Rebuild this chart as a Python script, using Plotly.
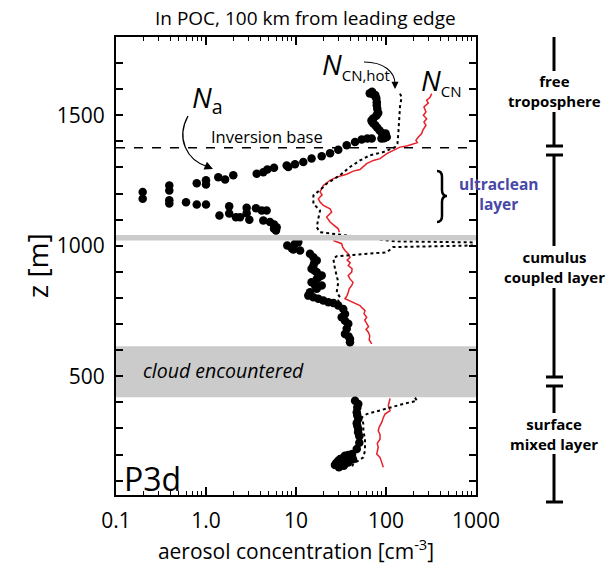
import plotly.graph_objects as go

# ---------------- data ----------------
# N_a (aerosol number, black dots): concentration [cm-3], altitude [m]
na_conc = [66, 70, 72, 76, 78, 79, 79, 80, 82, 80, 78, 72, 69, 70, 72, 76, 80, 85, 90, 96, 100, 102, 99, 95, 89,
           69.4, 62, 53.7, 45.3, 36.6, 29.5, 23.9, 19.3, 14.9, 12.05, 9.75, 8.21, 7.88, 5.7, 4.8, 4.33, 3.66,
           2.01, 1.63, 1.37, 1.0, 1.0, 0.789, 0.391, 0.391, 0.198, 0.198, 0.391, 0.391, 0.6, 0.789, 1.0,
           1.41, 1.81, 1.81, 2.15, 2.39, 2.83, 2.83, 3.03, 3.59, 4.16, 4.72, 4.33, 5.14, 5.7, 5.7, 6.1, 6.0,
           8.0, 8.96, 9.75, 10.6, 11.1, 9.33,
           14.3, 15.6, 17.0, 16.0, 15.6, 14.9, 16.0, 17.0, 19.3, 18.0, 17.0, 14.9, 16.3, 19.3, 17.0, 14.3,
           13.7, 15.6, 17.7, 20.1, 22.9, 26, 29.5, 33.5, 35, 32.2, 35, 38.1, 36.6, 35, 38.5, 39.8, 39.8,
           45.3, 49.2, 48, 47.3, 48, 49.2, 47.3, 48, 49.2, 49, 50.5, 50.5, 47.3, 42, 38.1, 35, 33.5, 31,
           29.5, 28, 27.1, 30, 34, 38, 43]
na_alt = [1584, 1590, 1580, 1578, 1565, 1550, 1538, 1525, 1510, 1504, 1498, 1488, 1480, 1475, 1470, 1462, 1452, 1442, 1432, 1424, 1417, 1417, 1430, 1412, 1411,
          1411, 1411, 1407, 1398, 1385, 1368, 1355, 1343, 1334, 1321, 1312, 1302, 1308, 1299, 1292, 1282, 1276,
          1270, 1254, 1263, 1251, 1235, 1240, 1231, 1212, 1206, 1180, 1174, 1162, 1167, 1158, 1158,
          1116, 1151, 1124, 1109, 1109, 1146, 1125, 1100, 1144, 1135, 1135, 1097, 1091, 1082, 1065, 1071, 1059,
          1001, 991, 1008, 1014, 982, 986,
          969, 956, 944, 935, 924, 912, 905, 899, 886, 880, 873, 860, 848, 848, 835, 822,
          809, 803, 797, 790, 784, 781, 771, 758, 739, 726, 713, 701, 682, 662, 652, 643, 630,
          406, 394, 380, 362, 350, 336, 320, 310, 298, 285, 270, 245, 221, 202, 198, 195, 188, 183,
          176, 168, 160, 151, 157, 170, 182, 190]

# N_CN (red line)
ncn_conc = [322, 308, 283, 295, 264, 278, 260, 283, 264, 278, 256, 249, 229, 215, 223, 201, 170, 143, 121, 102,
            85.8, 72.3, 61, 51.4, 43.3, 36.6, 28.3, 23.9, 20.1, 18.5, 19.5, 17.7, 18.5, 20.1, 23.9, 24.9, 21.9,
            23.9, 26.5, 29.5, 30.3,
            None,
            26, 30, 32.2, 33, 35, 38, 39.8, 37, 40, 38.1, 42, 41.6, 38, 39.8, 43, 41.6, 39, 38.1, 37, 35,
            41.6, 51.4, 55, 58.4, 57, 61, 58, 61, 64, 60, 63.6, 66, 65, 69.4,
            None,
            111, 106, 111, 97.5, 93, 89.6, 84, 82, 86, 85.8, 80, 82, 78.8, 85.8, 89.6, 93.3]
ncn_alt = [1583, 1568, 1558, 1547, 1532, 1513, 1500, 1487, 1474, 1462, 1442, 1430, 1417, 1404, 1395, 1389, 1382, 1378, 1366, 1353,
           1334, 1327, 1315, 1292, 1286, 1274, 1263, 1251, 1231, 1206, 1195, 1180, 1168, 1155, 1142, 1129, 1110,
           1091, 1078, 1065, 1052,
           None,
           1020, 1012, 1008, 995, 982, 970, 956, 945, 935, 924, 912, 899, 886, 873, 860, 848, 835, 822, 810, 797,
           784, 771, 760, 752, 740, 726, 715, 701, 690, 680, 669, 655, 640, 624,
           None,
           415, 387, 368, 355, 340, 323, 305, 291, 275, 259, 243, 227, 202, 189, 170, 151]

# N_CN,hot (black dotted line)
hot_conc = [143, 149, 143, 141, 137, 134, 126, 93.3, 66.4, 51.4, 39.8, 30.8, 21.9, 20, 15.6, 15.6, 18.5, 17.7, 17.0, 18.5,
            126, 926, 926, 120, 102, 43.3, 28.3, 26, 27.1, 29.5, 28.3, 30.8, 29.5, 33, 38.1, 41.6,
            None,
            210, 221, 156, 116, 85.8, 61, 53.7, 56, 56, 58.4, 58.4, 56, 43.3, 41.6]
hot_alt = [1583, 1570, 1532, 1481, 1430, 1391, 1378, 1359, 1347, 1327, 1302, 1270, 1238, 1224, 1193, 1161, 1135, 1104, 1071, 1052,
           1017, 1013, 1001, 995, 975, 965, 960, 950, 912, 860, 822, 803, 790, 752, 669, 630,
           None,
           418, 406, 394, 381, 368, 355, 342, 317, 291, 259, 215, 189, 164, 151]

x_tickvals = [0.1, 1, 10, 100, 1000]
x_ticktext = ["0.1", "1.0", "10", "100", "1000"]
x_minor = [m * d for d in [0.1, 1, 10, 100] for m in range(2, 10)]
y_tickvals = [500, 1000, 1500]
y_minor = [v for v in range(100, 1801, 100) if v % 500 != 0]

inversion_alt = 1376
thin_band = (1020, 1041)
cloud_band = (420, 615)

FONT = "Open Sans"

# ---------------- layout geometry ----------------
W, H = 613, 569
L, R, T, B = 116, 476, 37, 495


def px(x):
    return (x - L) / (R - L)


def py(y):
    return (B - y) / (B - T)


fig = go.Figure()
fig.add_trace(go.Scatter(x=ncn_conc, y=ncn_alt, mode="lines", line=dict(color="#e8202a", width=1.5),
                         connectgaps=False, showlegend=False))
fig.add_trace(go.Scatter(x=hot_conc, y=hot_alt, mode="lines", line=dict(color="black", width=2, dash="dot"),
                         connectgaps=False, showlegend=False))
fig.add_trace(go.Scatter(x=na_conc, y=na_alt, mode="markers", marker=dict(color="black", size=8.5),
                         showlegend=False))

shapes = []
# gray bands
shapes.append(dict(type="rect", xref="paper", yref="y", x0=0, x1=1, y0=thin_band[0], y1=thin_band[1],
                   fillcolor="#cbcbcb", line=dict(width=0), layer="above"))
shapes.append(dict(type="rect", xref="paper", yref="y", x0=0, x1=1, y0=cloud_band[0], y1=cloud_band[1],
                   fillcolor="#cbcbcb", line=dict(width=0), layer="below"))
# inversion base
shapes.append(dict(type="line", xref="paper", yref="y", x0=0, x1=1, y0=inversion_alt, y1=inversion_alt,
                   line=dict(color="black", width=1.5, dash="dash")))


def pline(x0, y0, x1, y1, w=3):
    shapes.append(dict(type="line", xref="paper", yref="paper", x0=px(x0), y0=py(y0), x1=px(x1), y1=py(y1),
                       line=dict(color="black", width=w)))


# right-side layer bars
LX = 554
pline(LX, 37, LX, 71)
pline(LX, 112, LX, 146)
pline(546, 146, 563, 146)
pline(546, 155, 563, 155)
pline(LX, 155, LX, 246)
pline(LX, 288, LX, 377)
pline(546, 377, 563, 377)
pline(546, 386, 563, 386)
pline(LX, 386, LX, 413)
pline(LX, 454, LX, 502)
pline(546, 502, 563, 502)

# brace
bx, bw = 437, 5
yt, ym, yb = 171, 196, 222
r = 6
brace = (f"M {px(bx)},{py(yt)} Q {px(bx+bw)},{py(yt)} {px(bx+bw)},{py(yt+r)} "
         f"L {px(bx+bw)},{py(ym-r)} Q {px(bx+bw)},{py(ym)} {px(bx+2*bw)},{py(ym)} "
         f"Q {px(bx+bw)},{py(ym)} {px(bx+bw)},{py(ym+r)} "
         f"L {px(bx+bw)},{py(yb-r)} Q {px(bx+bw)},{py(yb)} {px(bx)},{py(yb)}")
shapes.append(dict(type="path", xref="paper", yref="paper", path=brace, line=dict(color="black", width=2.5)))

# curved arrows
arrow_na = f"M {px(188)},{py(116)} C {px(176)},{py(138)} {px(186)},{py(160)} {px(208)},{py(167)}"
shapes.append(dict(type="path", xref="paper", yref="paper", path=arrow_na, line=dict(color="black", width=1.3)))
arrow_hot = f"M {px(364)},{py(62)} C {px(384)},{py(62)} {px(395)},{py(72)} {px(395)},{py(84)}"
shapes.append(dict(type="path", xref="paper", yref="paper", path=arrow_hot, line=dict(color="black", width=1.1)))

annotations = []


def ann(x, y, text, size, color="black", **kw):
    d = dict(xref="paper", yref="paper", x=px(x), y=py(y), text=text, showarrow=False,
             font=dict(family=FONT, size=size, color=color), xanchor="center", yanchor="middle")
    d.update(kw)
    annotations.append(d)


ann(305, 18, "In POC, 100 km from leading edge", 19)
ann(267, 136, "Inversion base", 16.5)
ann(223, 370, "<i>cloud encountered</i>", 19.5)
ann(152, 478, "P3d", 32)
ann(207, 99, "<i>N</i><sub>a</sub>", 28)
ann(356, 65, "<i>N</i><sub><span style='font-size:15px'>CN,hot</span></sub>", 28)
ann(441, 81, "<i>N</i><sub><span style='font-size:15px'>CN</span></sub>", 28)
ann(498, 194, "<b>ultraclean<br>layer</b>", 15.5, color="#4848a6")
ann(554, 91, "<b>free<br>troposphere</b>", 15)
ann(554, 267, "<b>cumulus<br>coupled layer</b>", 15)
ann(554, 434, "<b>surface<br>mixed layer</b>", 15)
ann(37, 266, "z [m]", 28, textangle=-90)

# arrowheads
annotations.append(dict(xref="paper", yref="paper", x=px(213), y=py(169), ax=-7, ay=-3, text="",
                        showarrow=True, arrowhead=2, arrowsize=1.3, arrowwidth=1.3, arrowcolor="black"))
annotations.append(dict(xref="paper", yref="paper", x=px(395), y=py(89), ax=0, ay=-7, text="",
                        showarrow=True, arrowhead=2, arrowsize=1.3, arrowwidth=1.1, arrowcolor="black"))

fig.update_layout(
    width=W, height=H,
    margin=dict(l=L, r=W - R, t=T, b=H - B, pad=0),
    plot_bgcolor="white", paper_bgcolor="white",
    font=dict(family=FONT, color="black"),
    shapes=shapes, annotations=annotations,
    xaxis=dict(type="log", range=[-1, 3], showgrid=False, zeroline=False,
               showline=True, linecolor="black", linewidth=2, mirror="ticks",
               ticks="inside", ticklen=8, tickwidth=1.5, tickcolor="black",
               tickvals=x_tickvals, ticktext=x_ticktext, tickfont=dict(size=21, family=FONT),
               ticklabelstandoff=6,
               minor=dict(tickvals=x_minor, ticks="inside", ticklen=4, tickwidth=1.2, tickcolor="black", showgrid=False),
               title=dict(text="aerosol concentration [cm<sup>-3</sup>]", font=dict(size=21, family=FONT), standoff=4)),
    yaxis=dict(range=[45, 1800], showgrid=False, zeroline=False,
               showline=True, linecolor="black", linewidth=2, mirror="ticks",
               ticks="inside", ticklen=7, tickwidth=1.5, tickcolor="black",
               tickvals=y_tickvals, tickfont=dict(size=21, family=FONT),
               ticklabelstandoff=5,
               minor=dict(tickvals=y_minor, ticks="inside", ticklen=7, tickwidth=1.5, tickcolor="black", showgrid=False)),
)

fig.write_html("out.html", config={"displayModeBar": False},
               post_script="document.body.style.margin='0px';")
